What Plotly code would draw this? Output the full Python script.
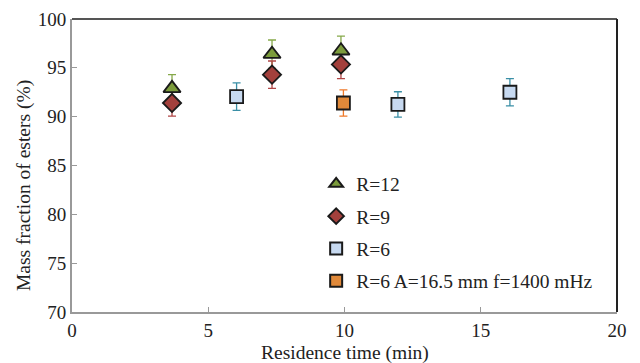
import plotly.graph_objects as go

# Residence time (min) and mass fraction of esters (%) with error bars
x_r12 = [3.67, 7.34, 9.87]
y_r12 = [92.9, 96.4, 96.75]
e_r12 = [1.4, 1.45, 1.5]

x_r9 = [3.67, 7.34, 9.87]
y_r9 = [91.4, 94.3, 95.35]
e_r9 = [1.35, 1.4, 1.45]

x_r6 = [6.04, 11.96, 16.07]
y_r6 = [92.05, 91.25, 92.5]
e_r6 = [1.4, 1.3, 1.4]

x_r6b = [9.96]
y_r6b = [91.4]
e_r6b = [1.35]

series = [
    dict(name="R=12", x=x_r12, y=y_r12, e=e_r12, symbol="triangle-up", size=15,
         fill="#7C9C3C", bar="#86A94A"),
    dict(name="R=9", x=x_r9, y=y_r9, e=e_r9, symbol="diamond", size=14,
         fill="#A3403C", bar="#B04545"),
    dict(name="R=6", x=x_r6, y=y_r6, e=e_r6, symbol="square", size=13,
         fill="#C7D9F0", bar="#3A8FA6"),
    dict(name="R=6 A=16.5 mm f=1400 mHz", x=x_r6b, y=y_r6b, e=e_r6b, symbol="square", size=13,
         fill="#E0893A", bar="#F07A2A"),
]

SERIF = "Times New Roman, Liberation Serif, serif"

fig = go.Figure()

# error bars first so every marker sits on top of them
for s in series:
    fig.add_trace(go.Scatter(
        x=s["x"], y=s["y"], mode="markers",
        marker=dict(size=1, opacity=0),
        error_y=dict(type="data", array=s["e"], visible=True,
                     color=s["bar"], thickness=1.3, width=4),
        showlegend=False, hoverinfo="skip",
    ))

for i, s in enumerate(series):
    fig.add_trace(go.Scatter(
        x=s["x"], y=s["y"], mode="markers", name=s["name"],
        legendgroup=f"g{i}",
        marker=dict(symbol=s["symbol"], size=s["size"], color=s["fill"],
                    line=dict(color="#1a1a1a", width=1.8)),
    ))

tick_font = dict(family=SERIF, size=19, color="#222")
title_font = dict(family=SERIF, size=19.5, color="#222")

fig.update_layout(
    width=640, height=363,
    margin=dict(l=72, r=23, t=19, b=51, autoexpand=False),
    paper_bgcolor="white", plot_bgcolor="white",
    font=tick_font,
    showlegend=True,
    legend=dict(x=0.448, y=0.503, xanchor="left", yanchor="top",
                bgcolor="rgba(0,0,0,0)", borderwidth=0,
                font=dict(family=SERIF, size=19.5, color="#222"),
                traceorder="grouped", tracegroupgap=4, itemwidth=30,
                itemsizing="constant"),
    xaxis=dict(range=[0, 20], dtick=5, ticks="inside", ticklen=5, tickcolor="#999",
               showline=True, linecolor="#999", linewidth=2, showgrid=False, zeroline=False,
               automargin=False, tickfont=tick_font),
    yaxis=dict(range=[70, 100], dtick=5, ticks="inside", ticklen=5, tickcolor="#999",
               showline=True, linecolor="#999", linewidth=2, showgrid=False, zeroline=False,
               automargin=False, tickfont=tick_font),
)

# axis titles
fig.add_annotation(text="Residence time (min)", xref="paper", yref="paper",
                   x=0.5, y=0, yanchor="middle", yshift=-41, showarrow=False,
                   font=title_font)
fig.add_annotation(text="Mass fraction of esters (%)", xref="paper", yref="paper",
                   x=0, y=0.43, xanchor="center", xshift=-48, textangle=-90,
                   showarrow=False, font=dict(family=SERIF, size=19.5, color="#222"))

# dark frame along the top and right edges of the plot area
fig.add_shape(type="line", xref="paper", yref="paper", x0=0, x1=1, y0=1, y1=1,
              line=dict(color="#555", width=2))
fig.add_shape(type="line", xref="paper", yref="paper", x0=1, x1=1, y0=0, y1=1,
              line=dict(color="#222", width=2))

fig.write_html("out.html")
